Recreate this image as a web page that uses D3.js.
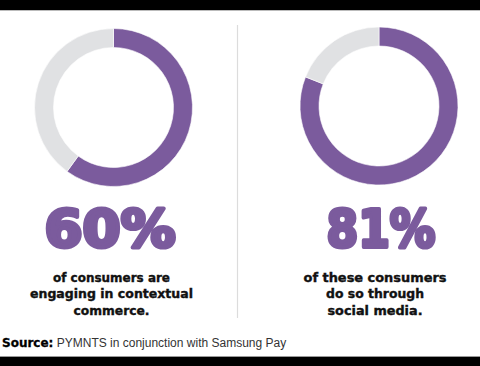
<!DOCTYPE html>
<html>
<head>
<meta charset="utf-8">
<script src="https://cdn.jsdelivr.net/npm/d3@7"></script>
<style>
  html, body { margin: 0; padding: 0; background: #fff; }
</style>
</head>
<body>
<div id="board"></div>
<script>
// data
const shares = [60, 81];
const bigLabels = ["60%", "81%"];
const captions = [
  ["of consumers are", "engaging in contextual", "commerce."],
  ["of these consumers", "do so through", "social media."]
];
const sourceLabel = "Source:";
const sourceText = " PYMNTS in conjunction with Samsung Pay";

// layout
const width = 480;
const height = 366;
const centers = [{x: 113.5, y: 107.5}, {x: 379, y: 106}];
const outerR = 79;
const innerR = 60;
const bigWidths = [131, 109];
const capWidths = [[117, 163, 76], [143, 98, 95]];
const purple = "#7b5b9d";
const grey = "#e0e1e3";

const svg = d3.create("svg")
    .attr("width", width)
    .attr("height", height)
    .style("font-family", "'DejaVu Sans', sans-serif");

// top and bottom bars
svg.append("rect").attr("x", 0).attr("y", 0).attr("width", width).attr("height", 10).attr("fill", "#000");
svg.append("rect").attr("x", 0).attr("y", 10).attr("width", width).attr("height", 1).attr("fill", "#bbb");
svg.append("rect").attr("x", 0).attr("y", 356).attr("width", width).attr("height", 1).attr("fill", "#999");
svg.append("rect").attr("x", 0).attr("y", 357).attr("width", width).attr("height", 9).attr("fill", "#000");

// divider
svg.append("line")
    .attr("x1", 237.5).attr("x2", 237.5)
    .attr("y1", 25).attr("y2", 318)
    .attr("stroke", "#dcdcdc")
    .attr("stroke-width", 1.2);

const pie = d3.pie().sort(null).value(d => d);
const arc = d3.arc().innerRadius(innerR).outerRadius(outerR);

shares.forEach((s, i) => {
  const g = svg.append("g")
      .attr("transform", `translate(${centers[i].x},${centers[i].y})`);

  g.selectAll("path")
    .data(pie([s, 100 - s]))
    .enter()
    .append("path")
    .attr("d", arc)
    .attr("fill", (d, j) => j === 0 ? purple : grey)
    .attr("stroke", "#fff")
    .attr("stroke-width", 0.6);

  // big percentage (stroked to get a black weight)
  svg.append("text")
    .attr("x", centers[i].x + (i === 0 ? -3.5 : 2))
    .attr("y", 246.5)
    .attr("text-anchor", "middle")
    .attr("font-size", 51)
    .attr("font-weight", "bold")
    .attr("fill", purple)
    .attr("stroke", purple)
    .attr("stroke-width", 4)
    .attr("stroke-linejoin", "round")
    .attr("textLength", bigWidths[i])
    .attr("lengthAdjust", "spacingAndGlyphs")
    .text(bigLabels[i]);

  // caption lines
  svg.append("g")
    .selectAll("text")
    .data(captions[i])
    .enter()
    .append("text")
    .attr("x", i === 0 ? 111.5 : 375)
    .attr("y", (d, j) => 281.5 + j * 16.5)
    .attr("text-anchor", "middle")
    .attr("font-weight", "bold")
    .attr("font-size", 13)
    .attr("fill", "#111")
    .attr("stroke", "#111")
    .attr("stroke-width", 0.4)
    .attr("textLength", (d, j) => capWidths[i][j])
    .attr("lengthAdjust", "spacingAndGlyphs")
    .text(d => d);
});

// source line
const src = svg.append("text")
    .attr("x", 2)
    .attr("y", 347)
    .attr("font-size", 12)
    .attr("fill", "#333");
src.append("tspan")
    .attr("font-weight", "bold")
    .attr("fill", "#000")
    .attr("stroke", "#000")
    .attr("stroke-width", 0.3)
    .text(sourceLabel);
src.append("tspan")
    .attr("font-family", "'Liberation Sans', Arial, sans-serif")
    .text(sourceText);

document.getElementById("board").append(svg.node());
</script>
</body>
</html>
